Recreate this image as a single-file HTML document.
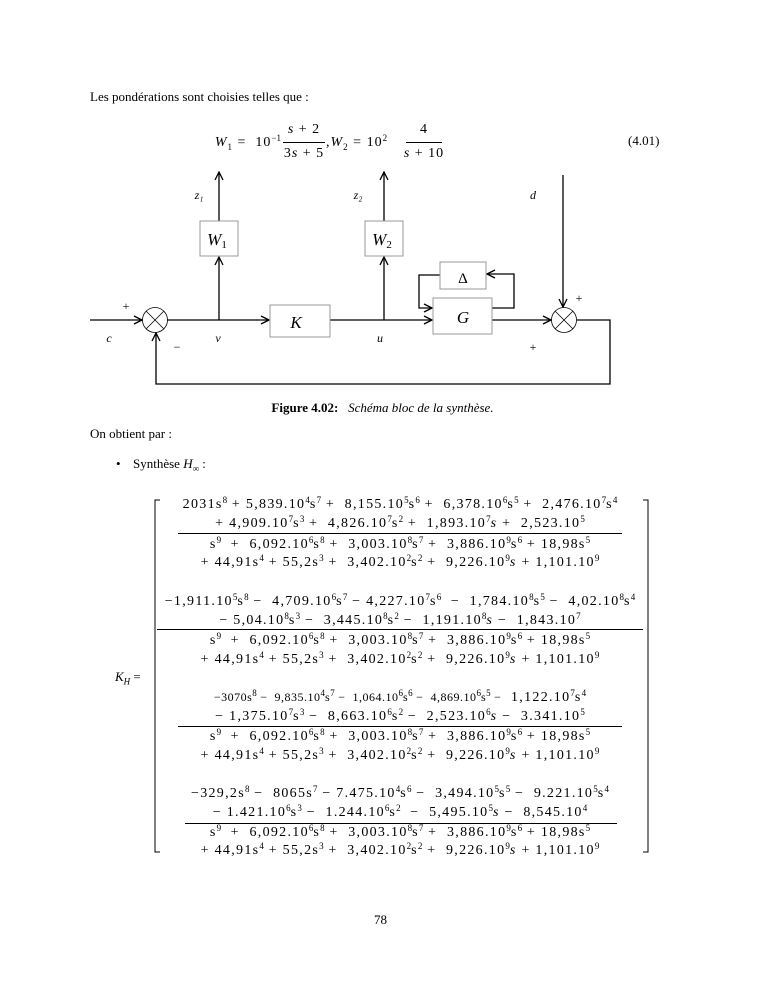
<!DOCTYPE html>
<html><head><meta charset="utf-8"><style>
body{margin:0;background:#fff;}
#pg{position:relative;width:765px;height:990px;font-family:"Liberation Serif",serif;color:#000;font-size:13px;}
.a{position:absolute;white-space:nowrap;}
.c{position:absolute;left:100px;width:600px;text-align:center;white-space:nowrap;font-size:14px;letter-spacing:1.3px;}
sup{font-size:9px;vertical-align:5px;line-height:0;letter-spacing:0;}
i{font-style:italic;}
.bar{position:absolute;height:1px;background:#000;}
.m{font-size:14px;letter-spacing:1px;}
</style></head><body><div id="pg">
<div class="a" style="left:90px;top:89px;">Les pondérations sont choisies telles que :</div>
<div class="a m" style="left:180px;width:101px;text-align:right;top:135px;"><i>W</i><sub style="font-size:9px">1</sub> = &nbsp;10<sup>−1</sup></div>
<div class="a m" style="left:283px;top:122px;width:42px;text-align:center;"><i>s</i> + 2</div>
<div class="bar" style="left:283px;top:142px;width:42px;"></div>
<div class="a m" style="left:283px;top:146px;width:42px;text-align:center;">3<i>s</i> + 5</div>
<div class="a m" style="left:326px;top:135px;">,<i>W</i><sub style="font-size:9px">2</sub> = 10<sup>2</sup></div>
<div class="a m" style="left:406px;top:122px;width:36px;text-align:center;">4</div>
<div class="bar" style="left:406px;top:142px;width:36px;"></div>
<div class="a m" style="left:400px;top:146px;width:48px;text-align:center;"><i>s</i> + 10</div>
<div class="a" style="left:628px;top:133px;">(4.01)</div>

<svg class="a" style="left:0;top:0" width="765" height="420" viewBox="0 0 765 420">
<defs><marker id="ar" markerWidth="10" markerHeight="10" refX="9" refY="5" orient="auto" markerUnits="userSpaceOnUse"><path d="M1,1 L9,5 L1,9" fill="none" stroke="#000" stroke-width="1.3"/></marker></defs>
<g stroke="#000" stroke-width="1.3" fill="none">
<line x1="90" y1="320" x2="142" y2="320" marker-end="url(#ar)"/>
<circle cx="155" cy="320" r="12.5" stroke-width="0.8"/>
<line x1="146" y1="311" x2="164" y2="329" stroke-width="0.8"/><line x1="164" y1="311" x2="146" y2="329" stroke-width="0.8"/>
<line x1="167" y1="320" x2="269" y2="320" marker-end="url(#ar)"/>
<line x1="219" y1="320" x2="219" y2="257" marker-end="url(#ar)"/>
<line x1="219" y1="221" x2="219" y2="172" marker-end="url(#ar)"/>
<line x1="330" y1="320" x2="432" y2="320" marker-end="url(#ar)"/>
<line x1="384" y1="320" x2="384" y2="257" marker-end="url(#ar)"/>
<line x1="384" y1="221" x2="384" y2="172" marker-end="url(#ar)"/>
<polyline points="440,275 419,275 419,308 432,308" marker-end="url(#ar)"/>
<polyline points="492,308 514,308 514,274 487,274" marker-end="url(#ar)"/>
<line x1="492" y1="320" x2="551" y2="320" marker-end="url(#ar)"/>
<line x1="563" y1="175" x2="563" y2="307" marker-end="url(#ar)"/>
<circle cx="564" cy="320" r="12.5" stroke-width="0.8"/>
<line x1="555" y1="311" x2="573" y2="329" stroke-width="0.8"/><line x1="573" y1="311" x2="555" y2="329" stroke-width="0.8"/>
<polyline points="577,320 610,320 610,384 156,384 156,333" marker-end="url(#ar)"/>
</g>
<g stroke="#999" stroke-width="1" fill="#fff">
<rect x="200" y="221" width="38" height="35"/>
<rect x="365" y="221" width="38" height="35"/>
<rect x="270" y="305" width="60" height="32"/>
<rect x="440" y="262" width="46" height="27"/>
<rect x="433" y="298" width="59" height="36"/>
</g>
<g font-family="Liberation Serif,serif" font-style="italic" font-size="17" text-anchor="middle">
<text x="217" y="245">W<tspan font-size="11" font-style="normal" dy="3">1</tspan></text>
<text x="382" y="245">W<tspan font-size="11" font-style="normal" dy="3">2</tspan></text>
<text x="296" y="328">K</text>
<text x="463" y="323">G</text>
<text x="463" y="283" font-style="normal" font-size="15">Δ</text>
</g>
<g font-family="Liberation Serif,serif" font-style="italic" font-size="12" text-anchor="middle">
<text x="199" y="199">z₁</text><text x="358" y="199">z₂</text><text x="533" y="199">d</text>
<text x="109" y="342">c</text><text x="218" y="342">v</text><text x="380" y="342">u</text>
<text x="126" y="310" font-style="normal">+</text><text x="177" y="351" font-style="normal">−</text>
<text x="579" y="302" font-style="normal">+</text><text x="533" y="351" font-style="normal">+</text>
</g>
</svg>

<div class="a" style="left:0;width:765px;text-align:center;top:400px;"><b>Figure 4.02:</b> &nbsp; <i>Schéma bloc de la synthèse.</i></div>
<div class="a" style="left:90px;top:426px;">On obtient par :</div>
<div class="a" style="left:116px;top:456px;">•</div>
<div class="a" style="left:133px;top:456px;">Synthèse <i>H</i><sub style="font-size:9px">∞</sub> :</div>
<div class="a" style="left:115px;top:669px;"><i>K<sub style="font-size:9px">H</sub></i> =</div>

<svg class="a" style="left:0;top:0" width="765" height="990">
<g stroke="#000" fill="none" stroke-width="1">
<polyline points="160,500 155,500 155,852 160,852"/>
<polyline points="643,500 648,500 648,852 643,852"/>
</g></svg>

<div class="c" style="top:497px">2031s<sup>8</sup> + 5,839.10<sup>4</sup>s<sup>7</sup> + &nbsp;8,155.10<sup>5</sup>s<sup>6</sup> + &nbsp;6,378.10<sup>6</sup>s<sup>5</sup> + &nbsp;2,476.10<sup>7</sup>s<sup>4</sup></div>
<div class="c" style="top:516px">+ 4,909.10<sup>7</sup>s<sup>3</sup> + &nbsp;4,826.10<sup>7</sup>s<sup>2</sup> + &nbsp;1,893.10<sup>7</sup><i>s</i> + &nbsp;2,523.10<sup>5</sup></div>
<div class="bar" style="left:178px;top:533px;width:444px"></div>
<div class="c" style="top:537px">s<sup>9</sup> &nbsp;+ &nbsp;6,092.10<sup>6</sup>s<sup>8</sup> + &nbsp;3,003.10<sup>8</sup>s<sup>7</sup> + &nbsp;3,886.10<sup>9</sup>s<sup>6</sup> + 18,98s<sup>5</sup></div>
<div class="c" style="top:555px">+ 44,91s<sup>4</sup> + 55,2s<sup>3</sup> + &nbsp;3,402.10<sup>2</sup>s<sup>2</sup> + &nbsp;9,226.10<sup>9</sup><i>s</i> + 1,101.10<sup>9</sup></div>

<div class="c" style="top:594px">−1,911.10<sup>5</sup>s<sup>8</sup> − &nbsp;4,709.10<sup>6</sup>s<sup>7</sup> − 4,227.10<sup>7</sup>s<sup>6</sup> &nbsp;− &nbsp;1,784.10<sup>8</sup>s<sup>5</sup> − &nbsp;4,02.10<sup>8</sup>s<sup>4</sup></div>
<div class="c" style="top:613px">− 5,04.10<sup>8</sup>s<sup>3</sup> − &nbsp;3,445.10<sup>8</sup>s<sup>2</sup> − &nbsp;1,191.10<sup>8</sup><i>s</i> − &nbsp;1,843.10<sup>7</sup></div>
<div class="bar" style="left:157px;top:629px;width:486px"></div>
<div class="c" style="top:633px">s<sup>9</sup> &nbsp;+ &nbsp;6,092.10<sup>6</sup>s<sup>8</sup> + &nbsp;3,003.10<sup>8</sup>s<sup>7</sup> + &nbsp;3,886.10<sup>9</sup>s<sup>6</sup> + 18,98s<sup>5</sup></div>
<div class="c" style="top:652px">+ 44,91s<sup>4</sup> + 55,2s<sup>3</sup> + &nbsp;3,402.10<sup>2</sup>s<sup>2</sup> + &nbsp;9,226.10<sup>9</sup><i>s</i> + 1,101.10<sup>9</sup></div>

<div class="c" style="top:690px"><span style="font-size:12px;letter-spacing:0.5px">−3070s<sup>8</sup> − &nbsp;9,835.10<sup>4</sup>s<sup>7</sup> − &nbsp;1,064.10<sup>6</sup>s<sup>6</sup> − &nbsp;4,869.10<sup>6</sup>s<sup>5</sup> −</span> &nbsp;1,122.10<sup>7</sup>s<sup>4</sup></div>
<div class="c" style="top:709px">− 1,375.10<sup>7</sup>s<sup>3</sup> − &nbsp;8,663.10<sup>6</sup>s<sup>2</sup> − &nbsp;2,523.10<sup>6</sup><i>s</i> − &nbsp;3.341.10<sup>5</sup></div>
<div class="bar" style="left:178px;top:726px;width:444px"></div>
<div class="c" style="top:729px">s<sup>9</sup> &nbsp;+ &nbsp;6,092.10<sup>6</sup>s<sup>8</sup> + &nbsp;3,003.10<sup>8</sup>s<sup>7</sup> + &nbsp;3,886.10<sup>9</sup>s<sup>6</sup> + 18,98s<sup>5</sup></div>
<div class="c" style="top:748px">+ 44,91s<sup>4</sup> + 55,2s<sup>3</sup> + &nbsp;3,402.10<sup>2</sup>s<sup>2</sup> + &nbsp;9,226.10<sup>9</sup><i>s</i> + 1,101.10<sup>9</sup></div>

<div class="c" style="top:786px">−329,2s<sup>8</sup> − &nbsp;8065s<sup>7</sup> − 7.475.10<sup>4</sup>s<sup>6</sup> − &nbsp;3,494.10<sup>5</sup>s<sup>5</sup> − &nbsp;9.221.10<sup>5</sup>s<sup>4</sup></div>
<div class="c" style="top:805px">− 1.421.10<sup>6</sup>s<sup>3</sup> − &nbsp;1.244.10<sup>6</sup>s<sup>2</sup> &nbsp;− &nbsp;5,495.10<sup>5</sup><i>s</i> − &nbsp;8,545.10<sup>4</sup></div>
<div class="bar" style="left:185px;top:823px;width:432px"></div>
<div class="c" style="top:825px">s<sup>9</sup> &nbsp;+ &nbsp;6,092.10<sup>6</sup>s<sup>8</sup> + &nbsp;3,003.10<sup>8</sup>s<sup>7</sup> + &nbsp;3,886.10<sup>9</sup>s<sup>6</sup> + 18,98s<sup>5</sup></div>
<div class="c" style="top:843px">+ 44,91s<sup>4</sup> + 55,2s<sup>3</sup> + &nbsp;3,402.10<sup>2</sup>s<sup>2</sup> + &nbsp;9,226.10<sup>9</sup><i>s</i> + 1,101.10<sup>9</sup></div>

<div class="a" style="left:374px;top:912px;">78</div>
</div></body></html>
